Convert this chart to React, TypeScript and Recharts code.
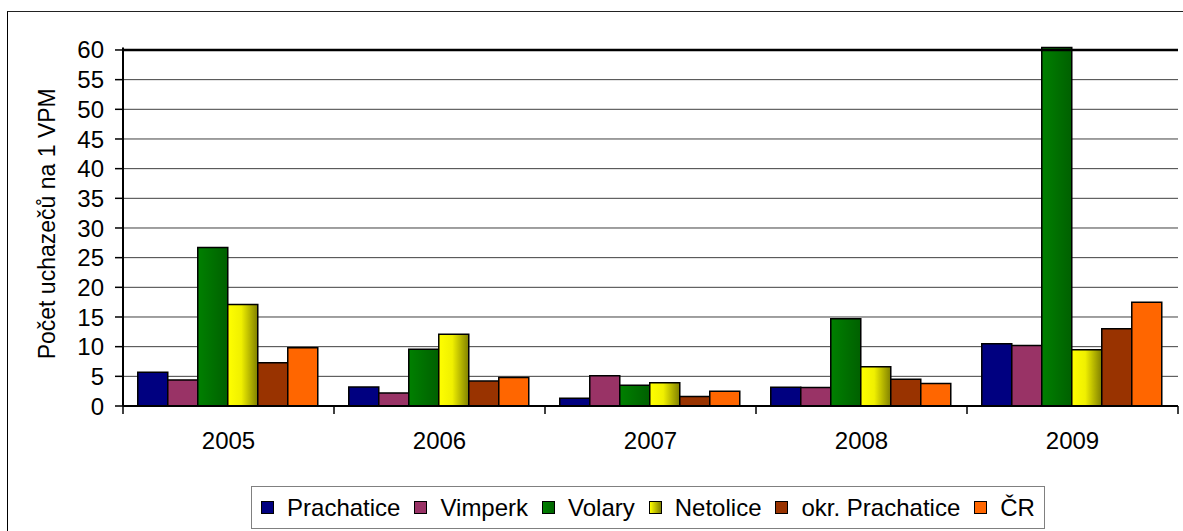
import React from 'react';
import { BarChart, Bar, XAxis, YAxis, CartesianGrid, Legend, ReferenceLine, Label } from 'recharts';

const years = ['2005', '2006', '2007', '2008', '2009'];
const prachatice = [5.7, 3.2, 1.3, 3.15, 10.5];
const vimperk = [4.4, 2.2, 5.1, 3.1, 10.2];
const volary = [26.7, 9.55, 3.5, 14.7, 60.4];
const netolice = [17.1, 12.1, 3.9, 6.6, 9.5];
const okrPrachatice = [7.3, 4.2, 1.6, 4.5, 13.0];
const cr = [9.8, 4.8, 2.5, 3.8, 17.5];
const yTicks = [0, 5, 10, 15, 20, 25, 30, 35, 40, 45, 50, 55, 60];

const series = [
  { key: 'prachatice', name: 'Prachatice', fill: '#000080', css: '#000080' },
  { key: 'vimperk', name: 'Vimperk', fill: '#993366', css: '#993366' },
  { key: 'volary', name: 'Volary', fill: 'url(#gVolary)', css: 'linear-gradient(to right, #008000, #006400)' },
  { key: 'netolice', name: 'Netolice', fill: 'url(#gNetolice)', css: 'linear-gradient(to right, #FFFF00, #808000)' },
  { key: 'okr', name: 'okr. Prachatice', fill: '#993300', css: '#993300' },
  { key: 'cr', name: 'ČR', fill: '#FF6600', css: '#FF6600' },
];

const data = years.map((y, i) => ({
  year: y,
  prachatice: prachatice[i],
  vimperk: vimperk[i],
  volary: volary[i],
  netolice: netolice[i],
  okr: okrPrachatice[i],
  cr: cr[i],
}));

const FONT = '"Liberation Sans", Arial, sans-serif';

const XTick = (props: any) => {
  const { x, y, payload, index, visibleTicksCount } = props;
  const off = payload && typeof payload.offset === 'number' && payload.offset > 0 ? payload.offset : 105.5;
  const last = index === (visibleTicksCount ?? 5) - 1;
  return (
    <g>
      <line x1={x - off} x2={x - off} y1={y - 8} y2={y} stroke="#000" strokeWidth={1.5} />
      {last && <line x1={x + off} x2={x + off} y1={y - 8} y2={y} stroke="#000" strokeWidth={1.5} />}
      <text x={x} y={y + 35} textAnchor="middle" fontSize={24} fontFamily={FONT} fill="#000">
        {payload.value}
      </text>
    </g>
  );
};

const LegendContent = () => (
  <div
    style={{
      boxSizing: 'border-box',
      width: 794,
      height: 43,
      border: '1.5px solid #808080',
      display: 'flex',
      alignItems: 'center',
      justifyContent: 'center',
      fontFamily: FONT,
      fontSize: 24,
      color: '#000',
      background: '#fff',
    }}
  >
    {series.map((s, i) => (
      <div key={s.key} style={{ display: 'flex', alignItems: 'center', marginLeft: i === 0 ? 0 : 14 }}>
        <div
          style={{
            width: 11,
            height: 11,
            border: '1.5px solid #000',
            background: s.css,
            marginRight: 13,
          }}
        />
        <span style={{ lineHeight: '43px' }}>{s.name}</span>
      </div>
    ))}
  </div>
);

export default function App() {
  return (
    <div style={{ position: 'absolute', left: 0, top: 0, width: 1183, height: 531, background: '#fff', overflow: 'hidden' }}>
      <div
        style={{
          position: 'absolute',
          left: 7,
          top: 11,
          width: 1200,
          height: 600,
          borderLeft: '1.5px solid #000',
          borderTop: '1.5px solid #222',
        }}
      />
      <div style={{ position: 'absolute', left: 0, top: 0 }}>
        <BarChart
          width={1183}
          height={531}
          data={data}
          margin={{ top: 47.6, right: 5, left: 0, bottom: 85 }}
          barCategoryGap="7%"
          barGap={0}
        >
          <defs>
            <linearGradient id="gVolary" x1="0" y1="0" x2="1" y2="0">
              <stop offset="0%" stopColor="#008000" />
              <stop offset="100%" stopColor="#006000" />
            </linearGradient>
            <linearGradient id="gNetolice" x1="0" y1="0" x2="1" y2="0">
              <stop offset="0%" stopColor="#FFFF00" />
              <stop offset="45%" stopColor="#F0F000" />
              <stop offset="100%" stopColor="#808000" />
            </linearGradient>
          </defs>
          <CartesianGrid vertical={false} horizontalValues={yTicks} stroke="#404040" strokeWidth={1} />
          <XAxis
            dataKey="year"
            axisLine={{ stroke: '#000', strokeWidth: 2 }}
            tickLine={false}
            tickSize={8}
            tickMargin={0}
            height={40}
            interval={0}
            tick={<XTick />}
          />
          <YAxis
            domain={[0, 60]}
            ticks={yTicks}
            interval={0}
            width={123}
            axisLine={{ stroke: '#000', strokeWidth: 2 }}
            tickLine={{ stroke: '#000', strokeWidth: 1.5 }}
            tickSize={8}
            tickMargin={11}
            tick={{ fontSize: 24, fontFamily: FONT, fill: '#000' }}
          >
            <Label
              content={(p: any) => {
                const vb = p.viewBox || { x: 0, y: 50, width: 123, height: 356 };
                const cx = vb.x + 47;
                const cy = vb.y + vb.height / 2 - 3;
                return (
                  <text
                    x={cx}
                    y={cy}
                    transform={`rotate(-90 ${cx} ${cy})`}
                    textAnchor="middle"
                    dominantBaseline="central"
                    fontSize={23}
                    fontFamily={FONT}
                    fill="#000"
                  >
                    Počet uchazečů na 1 VPM
                  </text>
                );
              }}
            />
          </YAxis>
          <YAxis
            yAxisId="right"
            orientation="right"
            domain={[0, 60]}
            width={0}
            tick={false}
            tickLine={false}
            axisLine={{ stroke: '#000', strokeWidth: 2.5 }}
          />
          <ReferenceLine y={60} stroke="#000" strokeWidth={2.5} />
          {series.map((s) => (
            <Bar
              key={s.key}
              dataKey={s.key}
              name={s.name}
              fill={s.fill}
              stroke="#000"
              strokeWidth={1.5}
              isAnimationActive={false}
            />
          ))}
          <Legend
            layout="horizontal"
            verticalAlign="middle"
            align="center"
            content={<LegendContent />}
            wrapperStyle={{ left: 251, top: 486, width: 794, height: 43 }}
          />
        </BarChart>
      </div>
    </div>
  );
}
